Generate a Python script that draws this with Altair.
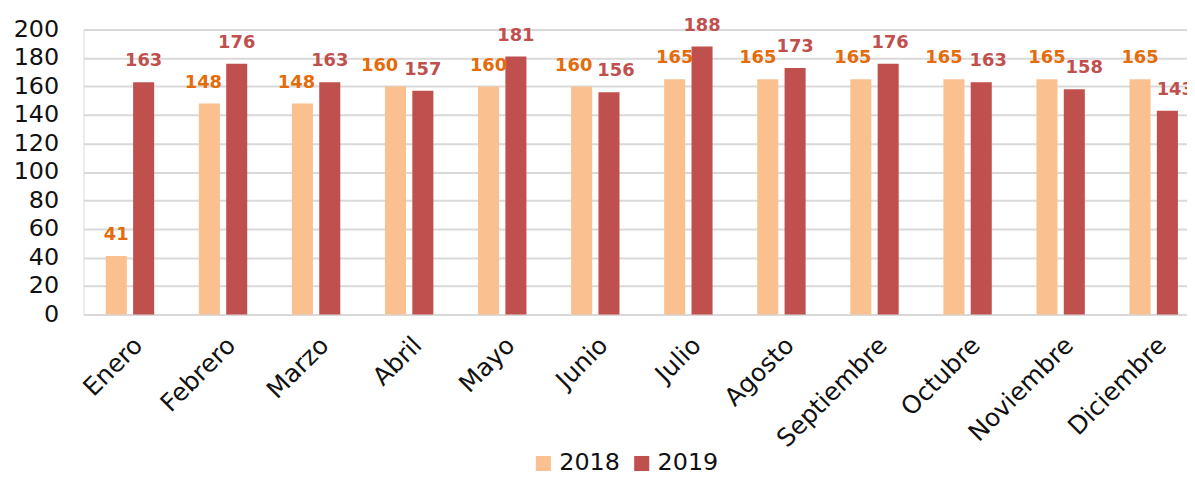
import altair as alt
import pandas as pd

months = ["Enero", "Febrero", "Marzo", "Abril", "Mayo", "Junio", "Julio",
          "Agosto", "Septiembre", "Octubre", "Noviembre", "Diciembre"]
v2018 = [41, 148, 148, 160, 160, 160, 165, 165, 165, 165, 165, 165]
v2019 = [163, 176, 163, 157, 181, 156, 188, 173, 176, 163, 158, 143]
years = ["2018", "2019"]

# small horizontal nudges (px) of the value labels, as placed in the original
nudge2018 = [0, -6, -6, -16, 0, -8, 0, -10, -8, -10, 0, 0]
nudge2019 = [0, 0, 0, 0, 0, 7, 0, 0, 2, 7, 10, 8]

rows = []
for m, a, b, na, nb in zip(months, v2018, v2019, nudge2018, nudge2019):
    rows.append({"mes": m, "anio": "2018", "valor": a, "nudge": na})
    rows.append({"mes": m, "anio": "2019", "valor": b, "nudge": nb})
df = pd.DataFrame(rows)

FONT = "DejaVu Sans"
W, H = 1111, 287
N = len(months)
PAD_IN = 0.48
PAD_OUT = 0.1686
ALIGN = 0.71
STEP = W / (N - PAD_IN + 2 * PAD_OUT)
BANDW = STEP * (1 - PAD_IN)
OFF_PAD = 0.23
OFF_STEP = BANDW / (2 - OFF_PAD)
C0 = OFF_STEP * (1 - OFF_PAD) / 2
C1 = OFF_STEP + C0

x = alt.X("mes:N", sort=months, title=None,
          scale=alt.Scale(paddingInner=PAD_IN, paddingOuter=PAD_OUT, align=ALIGN),
          axis=alt.Axis(labelAngle=-45, labelFontSize=25, labelFont=FONT,
                        labelColor="#111111", ticks=False, domainColor="#D9D9D9",
                        domainWidth=2, labelPadding=18, labelLimit=300))
xo = alt.XOffset("anio:N", sort=years, scale=alt.Scale(paddingInner=OFF_PAD, paddingOuter=0))
y = alt.Y("valor:Q", title=None,
          scale=alt.Scale(domain=[0, 200]),
          axis=alt.Axis(values=list(range(0, 201, 20)), tickCount=30, labelFontSize=24,
                        labelFont=FONT, labelColor="#111111", ticks=False, domain=False,
                        labelOverlap=False, gridColor="#D9D9D9", gridWidth=2, labelPadding=25))

bars = alt.Chart(df).mark_bar().encode(
    x=x, xOffset=xo, y=y,
    color=alt.Color("anio:N", sort=years,
                    scale=alt.Scale(domain=years, range=["#FAC090", "#C0504D"]),
                    legend=alt.Legend(title=None, orient="none", legendX=451, legendY=425,
                                      direction="horizontal", symbolType="square",
                                      symbolSize=230, symbolStrokeWidth=0,
                                      labelFontSize=24, labelFont=FONT, labelColor="#111111",
                                      columnPadding=9, labelOffset=4))
)

labels = alt.Chart(df).transform_calculate(
    pos=f"(datum.anio == '2018' ? {C0} : {C1}) + datum.nudge"
).mark_text(baseline="alphabetic", dy=-16, fontSize=18,
            fontWeight="bold", font=FONT).encode(
    x=x,
    xOffset=alt.XOffset("pos:Q", scale=alt.Scale(domain=[0, BANDW], range=[0, BANDW])),
    y=y,
    text=alt.Text("valor:Q"),
    color=alt.Color("anio:N", sort=years,
                    scale=alt.Scale(domain=years, range=["#E46C0A", "#C0504D"]),
                    legend=None)
)

chart = alt.layer(bars, labels).resolve_scale(
    color="independent", xOffset="independent"
).properties(
    width=W, height=H,
    autosize=alt.AutoSizeParams(type="none"),
    padding={"left": 76, "top": 20, "right": 0, "bottom": 162}
).configure_view(stroke=None).configure(background="#FFFFFF")

chart.save("out.html", embed_options={"renderer": "svg", "actions": False})
